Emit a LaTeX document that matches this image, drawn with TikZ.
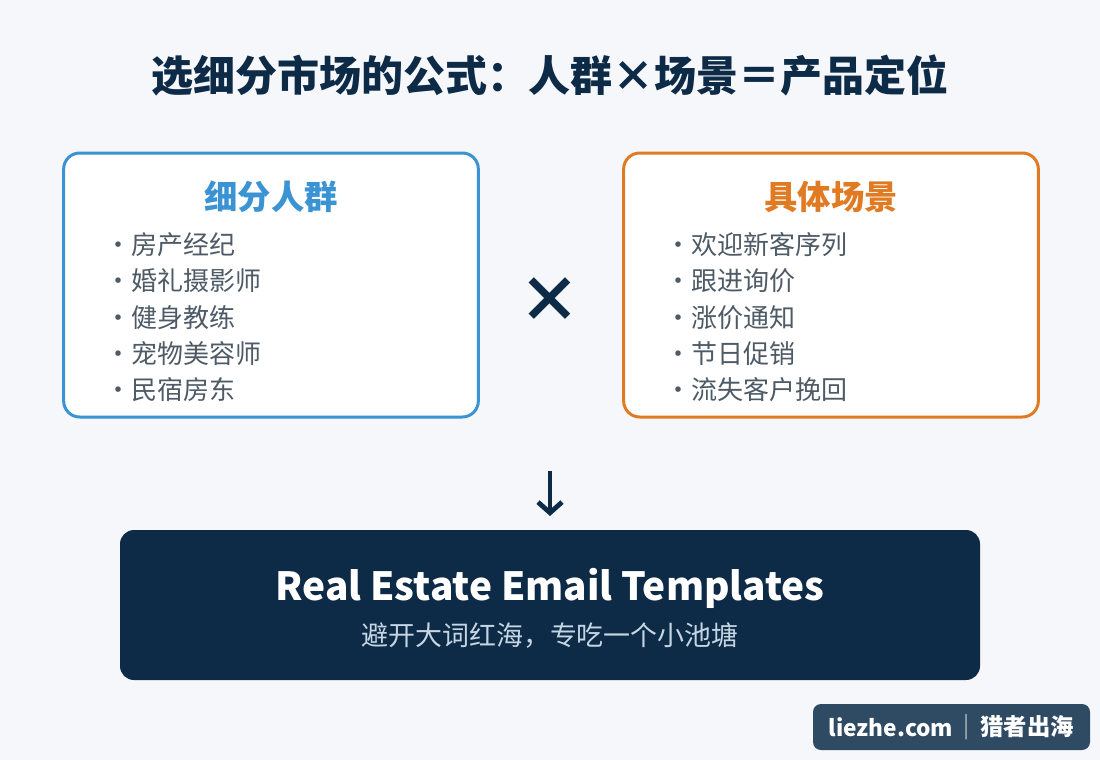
\documentclass[tikz,border=0pt]{standalone}
\usepackage{fontspec}
\setmainfont{Noto Sans CJK SC}
\usepackage{xcolor}
\usetikzlibrary{arrows.meta,positioning}
\definecolor{pagebg}{HTML}{F5F7FA}
\definecolor{navy}{HTML}{0D2B47}
\definecolor{skyblue}{HTML}{3A93D2}
\definecolor{deeporange}{HTML}{E07B24}
\definecolor{itemgray}{HTML}{4E5A66}
\definecolor{subgray}{HTML}{C5D5E4}
\definecolor{slate}{HTML}{2F4A63}

\begin{document}
\begin{tikzpicture}[x=0.75pt,y=-0.75pt,
card/.style={draw,line width=2.25pt,rounded corners=12pt,fill=white,minimum width=311pt,minimum height=198pt},
head/.style={inner sep=0pt,font=\fontsize{25}{30}\selectfont\bfseries},
item/.style={inner sep=0pt,anchor=west,text=itemgray,font=\fontsize{19.5}{24}\selectfont},
arr/.style={-{Straight Barb[length=8pt,width=18pt]},line width=3.6pt,navy}
]
\fill[pagebg] (0,0) rectangle (1100,760);
\useasboundingbox (0,0) rectangle (1100,760);

\node[inner sep=0pt,text=navy,font=\fontsize{31.5}{36}\selectfont\bfseries] (title) at (550,75) {选细分市场的公式：人群×场景＝产品定位};

% left card: audience
\node[card,draw=skyblue] (crowd) at (271,285) {};
\node[head,text=skyblue] (crowdhd) at (271,197) {细分人群};
\node[item] (c1) at (105,245) {·房产经纪};
\node[item] (c2) at (105,281) {·婚礼摄影师};
\node[item] (c3) at (105,318) {·健身教练};
\node[item] (c4) at (105,354) {·宠物美容师};
\node[item] (c5) at (105,390) {·民宿房东};

% right card: scenario
\node[card,draw=deeporange] (scene) at (831,285) {};
\node[head,text=deeporange] (scenehd) at (831,197) {具体场景};
\node[item] (s1) at (665,245) {·欢迎新客序列};
\node[item] (s2) at (665,281) {·跟进询价};
\node[item] (s3) at (665,318) {·涨价通知};
\node[item] (s4) at (665,354) {·节日促销};
\node[item] (s5) at (665,390) {·流失客户挽回};

\node[inner sep=0pt,text=navy,font=\fontsize{47}{52}\selectfont\bfseries] (times) at (550,300) {×};

\coordinate (dntop) at (550,471);
\coordinate (dnbot) at (550,516);
\draw[arr] (dntop) -- (dnbot);

% result
\node[fill=navy,rounded corners=10.5pt,minimum width=645pt,minimum height=112.5pt] (result) at (550,605) {};
\node[inner sep=0pt,text=white,font=\fontsize{29.1}{34}\selectfont\bfseries] (resname) at (550,588) {Real Estate Email Templates};
\node[inner sep=0pt,text=subgray,font=\fontsize{20.2}{24}\selectfont] (ressub) at (550,636) {避开大词红海，专吃一个小池塘};

% watermark
\node[fill=slate,rounded corners=6pt,minimum width=207.75pt,minimum height=34.5pt] (mark) at (951.5,727) {};
\node[inner sep=0pt,text=white,font=\fontsize{17}{20}\selectfont\bfseries] (site) at (891,727) {liezhe.com};
\node[inner sep=0pt,text=white,font=\fontsize{17.5}{20}\selectfont\bfseries] (brand) at (1027,727) {猎者出海};
\node[inner sep=0pt,text=white!60!slate,font=\fontsize{17}{20}\selectfont] (sep) at (967,727) {|};
\end{tikzpicture}
\end{document}
